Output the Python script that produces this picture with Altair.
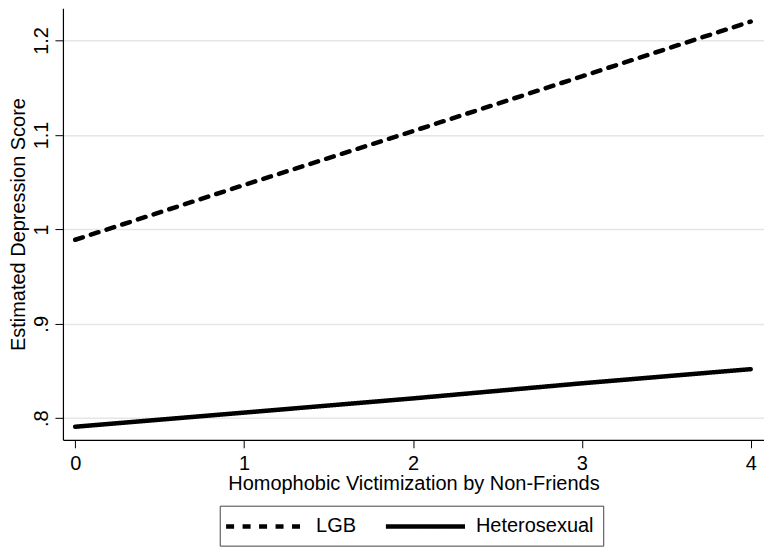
import altair as alt
import pandas as pd

x_vals = [0, 1, 2, 3, 4]
lgb = [0.989, 1.047, 1.104, 1.162, 1.220]
hetero = [0.791, 0.806, 0.821, 0.837, 0.852]
groups = ["LGB", "Heterosexual"]
y_ticks = [0.8, 0.9, 1.0, 1.1, 1.2]
x_ticks = [0, 1, 2, 3, 4]

rows = []
for g, vals in zip(groups, [lgb, hetero]):
    for xv, yv in zip(x_vals, vals):
        rows.append({"x": xv, "y": yv, "group": g})
df = pd.DataFrame(rows)

FONT = "Liberation Sans"

chart = alt.Chart(df).mark_line(
    color="black", strokeWidth=4.5, strokeCap="round"
).encode(
    x=alt.X("x:Q",
            scale=alt.Scale(domain=[-0.0727, 4.0786], nice=False, zero=False),
            axis=alt.Axis(values=x_ticks, title="Homophobic Victimization by Non-Friends",
                          grid=False, tickSize=8, labelPadding=6, titlePadding=0,
                          format="d")),
    y=alt.Y("y:Q",
            scale=alt.Scale(domain=[0.7772, 1.234], nice=False, zero=False),
            axis=alt.Axis(values=y_ticks, title="Estimated Depression Score",
                          grid=True, gridColor="#e6e6e6", gridWidth=1.5,
                          tickSize=8, labelAngle=270, labelAlign="center",
                          labelBaseline="bottom", labelPadding=3, titlePadding=3,
                          labelExpr="datum.value < 1 ? replace(format(datum.value, '.1f'), '0.', '.') : format(datum.value, '~g')")),
    strokeDash=alt.StrokeDash(
        "group:N",
        scale=alt.Scale(domain=groups, range=[[8, 8.5], [1, 0]]),
        legend=alt.Legend(title=" ", titleOrient="left", titlePadding=25.5,
                          titleFontSize=20, titleFont=FONT,
                          orient="none", legendX=157, legendY=498,
                          direction="horizontal", symbolType="M-4.4,0H4.4",
                          symbolSize=324, symbolStrokeWidth=4.5,
                          symbolStrokeColor="black", labelOffset=39,
                          columnPadding=19, padding=9, strokeColor="#444",
                          labelFontSize=20, labelFont=FONT, labelColor="black"),
    ),
    detail="group:N",
).properties(
    width=702, height=432,
    padding={"left": 0, "top": 0, "right": 0, "bottom": 0},
).configure_view(
    stroke=None
).configure_axis(
    domainColor="black", tickColor="black", labelColor="black", titleColor="black",
    labelFont=FONT, titleFont=FONT, labelFontSize=20, titleFontSize=20,
    titleFontWeight="normal", domainWidth=1.2, tickWidth=1,
)

chart.save("out.html", embed_options={"renderer": "svg", "actions": False})
